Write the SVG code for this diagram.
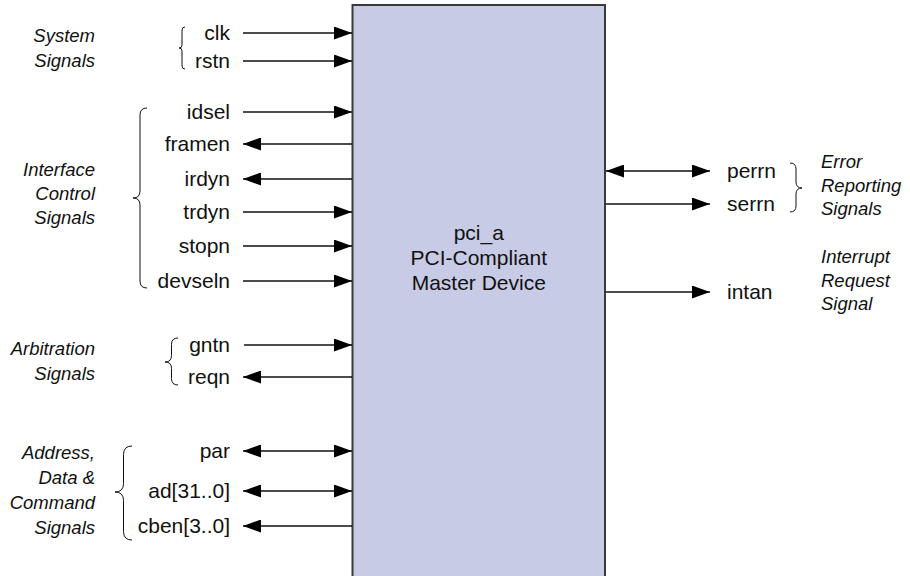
<svg xmlns="http://www.w3.org/2000/svg" width="910" height="576" viewBox="0 0 910 576">
<style>
.sig{font-family:"Liberation Sans",Arial,sans-serif;font-size:21px;fill:#111}
.grp{font-family:"Liberation Sans",Arial,sans-serif;font-size:18.5px;font-style:italic;fill:#111}
.l{text-anchor:end}
.c{text-anchor:middle}
.w{stroke:#111;stroke-width:1.3;fill:none}
.br{stroke:#111;stroke-width:1;fill:none}
</style>
<defs>
<marker id="ah" markerUnits="userSpaceOnUse" markerWidth="18" markerHeight="13" refX="18" refY="6.5" orient="auto-start-reverse" viewBox="0 0 18 13">
<path d="M0,0 L18,6.5 L0,13 z" fill="#000"/>
</marker>
</defs>
<rect width="910" height="576" fill="#fff"/>
<g id="device">
<rect x="352.5" y="5" width="252.5" height="590" fill="#c8cbe5" stroke="#3a3a3a" stroke-width="2"/>
<text class="sig c" x="478.8" y="240">pci_a</text>
<text class="sig c" x="478.8" y="265">PCI-Compliant</text>
<text class="sig c" x="478.8" y="290">Master Device</text>
</g>
<g id="connectors">
<line class="w" x1="243" y1="33" x2="352" y2="33" marker-end="url(#ah)"/>
<line class="w" x1="243" y1="61" x2="352" y2="61" marker-end="url(#ah)"/>
<line class="w" x1="243" y1="112" x2="352" y2="112" marker-end="url(#ah)"/>
<line class="w" x1="243" y1="144" x2="352" y2="144" marker-start="url(#ah)"/>
<line class="w" x1="243" y1="179" x2="352" y2="179" marker-start="url(#ah)"/>
<line class="w" x1="243" y1="212" x2="352" y2="212" marker-end="url(#ah)"/>
<line class="w" x1="243" y1="246" x2="352" y2="246" marker-end="url(#ah)"/>
<line class="w" x1="243" y1="281" x2="352" y2="281" marker-end="url(#ah)"/>
<line class="w" x1="244" y1="345" x2="352" y2="345" marker-end="url(#ah)"/>
<line class="w" x1="243" y1="377" x2="352" y2="377" marker-start="url(#ah)"/>
<line class="w" x1="243" y1="451" x2="352" y2="451" marker-start="url(#ah)" marker-end="url(#ah)"/>
<line class="w" x1="243" y1="491" x2="352" y2="491" marker-start="url(#ah)" marker-end="url(#ah)"/>
<line class="w" x1="243" y1="526" x2="352" y2="526" marker-start="url(#ah)"/>
<line class="w" x1="606" y1="171" x2="710" y2="171" marker-start="url(#ah)" marker-end="url(#ah)"/>
<line class="w" x1="606" y1="204" x2="710" y2="204" marker-end="url(#ah)"/>
<line class="w" x1="606" y1="292" x2="710" y2="292" marker-end="url(#ah)"/>
</g>
<g id="signal-labels">
<text class="sig l" x="230" y="40">clk</text>
<text class="sig l" x="230" y="68">rstn</text>
<text class="sig l" x="230" y="119">idsel</text>
<text class="sig l" x="230" y="151">framen</text>
<text class="sig l" x="230" y="186">irdyn</text>
<text class="sig l" x="230" y="219">trdyn</text>
<text class="sig l" x="230" y="253">stopn</text>
<text class="sig l" x="230" y="288">devseln</text>
<text class="sig l" x="230" y="352">gntn</text>
<text class="sig l" x="230" y="384">reqn</text>
<text class="sig l" x="230" y="458">par</text>
<text class="sig l" x="230" y="498">ad[31..0]</text>
<text class="sig l" x="230" y="533">cben[3..0]</text>
<text class="sig" x="727" y="178">perrn</text>
<text class="sig" x="727" y="211">serrn</text>
<text class="sig" x="727" y="299">intan</text>
</g>
<g id="system-signals">
<path class="br" d="M185,27 Q182,27 182,30 L182,45 Q182,48 179,48 Q182,48 182,51 L182,66 Q182,69 185,69"/>
<text class="grp l" x="95" y="42">System</text>
<text class="grp l" x="95" y="67">Signals</text>
</g>
<g id="interface-control-signals">
<path class="br" d="M147,108 Q140,108 140,115 L140,191 Q140,198 133,198 Q140,198 140,205 L140,281 Q140,288 147,288"/>
<text class="grp l" x="95" y="176">Interface</text>
<text class="grp l" x="95" y="200">Control</text>
<text class="grp l" x="95" y="224">Signals</text>
</g>
<g id="arbitration-signals">
<path class="br" d="M178,338 Q171.5,338 171.5,344.5 L171.5,355.5 Q171.5,362 165,362 Q171.5,362 171.5,368.5 L171.5,378.5 Q171.5,385 178,385"/>
<text class="grp l" x="95" y="355">Arbitration</text>
<text class="grp l" x="95" y="380">Signals</text>
</g>
<g id="address-data-command-signals">
<path class="br" d="M132,446 Q123.5,446 123.5,454.5 L123.5,483.5 Q123.5,492 115,492 Q123.5,492 123.5,500.5 L123.5,531.5 Q123.5,540 132,540"/>
<text class="grp l" x="95" y="459">Address,</text>
<text class="grp l" x="95" y="484">Data &amp;</text>
<text class="grp l" x="95" y="509">Command</text>
<text class="grp l" x="95" y="534">Signals</text>
</g>
<g id="error-reporting-signals">
<path class="br" d="M790,163 Q796,163 796,169 L796,182 Q796,188 802,188 Q796,188 796,194 L796,206 Q796,212 790,212"/>
<text class="grp" x="821" y="168">Error</text>
<text class="grp" x="821" y="192">Reporting</text>
<text class="grp" x="821" y="215">Signals</text>
</g>
<g id="interrupt-request-signal">
<text class="grp" x="821" y="263">Interrupt</text>
<text class="grp" x="821" y="287">Request</text>
<text class="grp" x="821" y="310">Signal</text>
</g>
</svg>
